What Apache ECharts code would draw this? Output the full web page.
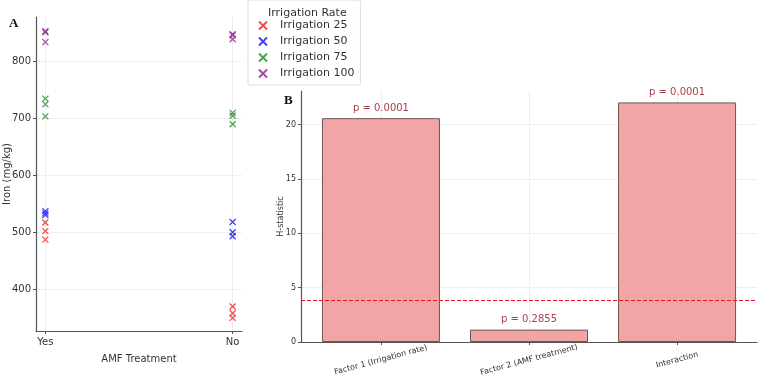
<!DOCTYPE html>
<html>
<head>
<meta charset="utf-8">
<script src="https://cdn.jsdelivr.net/npm/echarts@6/dist/echarts.min.js"></script>
<style>
  html, body { margin: 0; padding: 0; background: #fff; }
  #chart { width: 758px; height: 379px; }
</style>
</head>
<body>
<div id="chart"></div>
<script>
// --- panel A data: iron content, x index 0 = Yes, 1 = No ---
const amfLabels = ['Yes', 'No'];
const rateNames = ['Irrigation 25', 'Irrigation 50', 'Irrigation 75', 'Irrigation 100'];
const rateColors = ['#ee3b3b', '#2f2fee', '#36993b', '#9a369a'];
const iron25 = [[0, 517], [0, 502], [0, 487], [1, 370], [1, 358], [1, 350]];
const iron50 = [[0, 537], [0, 533], [0, 530], [1, 518], [1, 500], [1, 493]];
const iron75 = [[0, 734], [0, 724], [0, 703], [1, 709], [1, 704], [1, 689]];
const iron100 = [[0, 852], [0, 850], [0, 833], [1, 847], [1, 845], [1, 838]];
const ironTicks = [400, 500, 600, 700, 800];

// --- panel B data: Kruskal-Wallis H statistics, x index = factor ---
const factorNames = ['Factor 1 (Irrigation rate)', 'Factor 2 (AMF treatment)', 'Interaction'];
const hValues = [[0, 20.6], [1, 1.14], [2, 22.05]];
const pLabels = ['p = 0.0001', 'p = 0.2855', 'p = 0.0001'];
const hCritical = 3.84;
const hTicks = [0, 5, 10, 15, 20];

const X_MARK = 'path://M0,0 L10,10 M10,0 L0,10';
const FONT = 'DejaVu Sans';

const chart = echarts.init(document.getElementById('chart'), null, { renderer: 'canvas' });

const scatterSeries = [iron25, iron50, iron75, iron100].map((d, i) => ({
  name: rateNames[i],
  type: 'scatter',
  xAxisIndex: 0,
  yAxisIndex: 0,
  symbol: X_MARK,
  symbolSize: 6,
  itemStyle: { color: rateColors[i], borderColor: rateColors[i], borderWidth: 1.3, opacity: 0.9 },
  data: d,
  z: 5
}));

const option = {
  backgroundColor: '#fff',
  textStyle: { fontFamily: FONT },
  animation: false,
  title: [
    { text: 'A', left: 4, top: 12, textStyle: { fontFamily: 'Liberation Serif', fontWeight: 'bold', fontSize: 13, color: '#111' } },
    { text: 'B', left: 279, top: 89, textStyle: { fontFamily: 'Liberation Serif', fontWeight: 'bold', fontSize: 13, color: '#111' } },
    { text: 'Irrigation Rate', left: 263, top: 3, textStyle: { fontFamily: FONT, fontWeight: 'normal', fontSize: 11, color: '#333' } }
  ],
  legend: {
    data: rateNames,
    orient: 'vertical',
    left: 248,
    top: 0,
    padding: [20, 6, 6, 10],
    itemGap: 5,
    itemWidth: 8,
    itemHeight: 11,
    borderColor: '#ddd',
    borderWidth: 1,
    borderRadius: 2,
    textStyle: { fontFamily: FONT, fontSize: 11, color: '#333', padding: [0, 0, 0, 8] }
  },
  grid: [
    { left: 36, top: 17, width: 206, height: 314, outerBoundsMode: 'none' },
    { left: 301, top: 91, right: 1, bottom: 37, outerBoundsMode: 'none' }
  ],
  xAxis: [
    {
      type: 'value',
      gridIndex: 0,
      min: -0.05,
      max: 1.05,
      name: 'AMF Treatment',
      nameLocation: 'middle',
      nameGap: 23,
      nameTextStyle: { fontSize: 10, color: '#333' },
      axisLine: { onZero: false, lineStyle: { color: '#555', width: 1.2 } },
      axisTick: { customValues: [0, 1], length: 3, lineStyle: { color: '#555' } },
      axisLabel: { customValues: [0, 1], fontSize: 10, color: '#333', margin: 6, formatter: v => amfLabels[Math.round(v)] },
      splitLine: { show: true, lineStyle: { color: '#eee' } }
    },
    {
      type: 'value',
      gridIndex: 1,
      min: -0.54,
      max: 2.54,
      axisLine: { onZero: false, lineStyle: { color: '#555', width: 1.2 } },
      axisTick: { customValues: [0, 1, 2], length: 3, lineStyle: { color: '#555' } },
      axisLabel: {
        customValues: [0, 1, 2],
        formatter: v => factorNames[Math.round(v)],
        fontSize: 8,
        color: '#333',
        rotate: 15,
        align: 'center',
        verticalAlign: 'middle',
        margin: 18
      },
      splitLine: { show: true, lineStyle: { color: '#eee' } }
    }
  ],
  yAxis: [
    {
      type: 'value',
      gridIndex: 0,
      min: 327,
      max: 877,
      name: 'Iron (mg/kg)',
      nameLocation: 'middle',
      nameGap: 24,
      nameMoveOverlap: false,
      nameTextStyle: { fontSize: 10, color: '#333' },
      axisLine: { show: true, onZero: false, lineStyle: { color: '#555', width: 1.2 } },
      axisTick: { show: true, customValues: ironTicks, length: 3, lineStyle: { color: '#555' } },
      axisLabel: { customValues: ironTicks, fontSize: 10, color: '#333', margin: 5 },
      splitLine: { show: true, lineStyle: { color: '#eee' } }
    },
    {
      type: 'value',
      gridIndex: 1,
      min: 0,
      max: 23.1,
      name: 'H-statistic',
      nameLocation: 'middle',
      nameGap: 16,
      nameMoveOverlap: false,
      nameTextStyle: { fontSize: 8, color: '#333' },
      axisLine: { show: true, onZero: false, lineStyle: { color: '#555', width: 1.2 } },
      axisTick: { show: true, customValues: hTicks, length: 3, lineStyle: { color: '#555' } },
      axisLabel: { customValues: hTicks, fontSize: 8, color: '#333', margin: 5 },
      splitLine: { show: true, lineStyle: { color: '#eee' } }
    }
  ],
  series: [
    ...scatterSeries,
    {
      name: 'H',
      type: 'bar',
      xAxisIndex: 1,
      yAxisIndex: 1,
      barWidth: 118,
      data: hValues,
      itemStyle: { color: '#f2a5a5', borderColor: '#6e5555', borderWidth: 1 },
      label: {
        show: true,
        position: 'top',
        distance: 5,
        formatter: p => pLabels[p.dataIndex],
        fontSize: 10,
        color: '#a8404c'
      },
      markLine: {
        silent: true,
        symbol: 'none',
        label: { show: false },
        lineStyle: { type: [4, 2], color: '#e8141e', width: 1 },
        data: [{ yAxis: hCritical, lineStyle: { type: [4, 2], color: '#e8141e', width: 1 } }]
      }
    }
  ]
};

chart.setOption(option);
</script>
</body>
</html>
